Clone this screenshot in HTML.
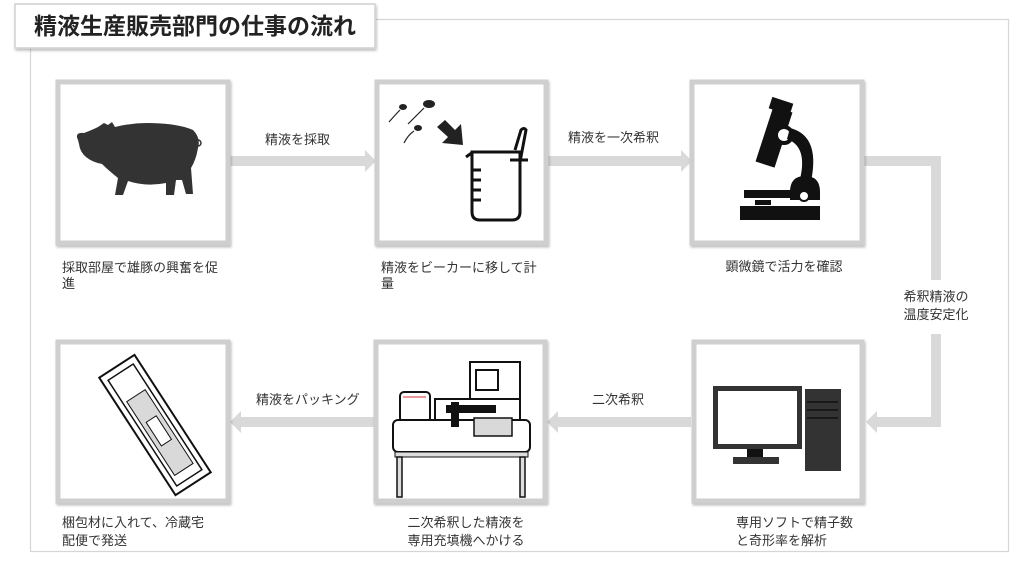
<!DOCTYPE html>
<html><head><meta charset="utf-8"><style>
html,body{margin:0;padding:0;background:#fff;}
svg{display:block;}
text{font-family:"Liberation Sans","Noto Sans CJK JP",sans-serif;fill:#333;font-size:13px;}
</style></head><body>
<svg width="1024" height="565" viewBox="0 0 1024 565" xmlns="http://www.w3.org/2000/svg">
<defs>
<filter id="sh" x="-10%" y="-10%" width="130%" height="130%"><feDropShadow dx="1" dy="2" stdDeviation="1.2" flood-color="#000" flood-opacity="0.25"/></filter>
</defs>
<rect x="30.5" y="19.5" width="978" height="532" fill="none" stroke="#d6d6d6" stroke-width="1.2"/>
<rect x="15" y="4" width="360" height="44" fill="#fff" stroke="#d0d0d0" stroke-width="1.5" filter="url(#sh)"/>
<text x="34" y="34" style="font-size:23px;font-weight:bold;fill:#222">精液生産販売部門の仕事の流れ</text>

<g fill="#d9d9d9">
<rect x="230" y="156" width="135" height="10"/><polygon points="365,150 376,161 365,172"/>
<rect x="548" y="156" width="133" height="10"/><polygon points="681,150 692,161 681,172"/>
<rect x="864" y="156" width="77" height="10"/><rect x="931" y="156" width="10" height="124"/>
<rect x="931" y="334" width="10" height="93"/><rect x="877" y="417" width="64" height="10"/><polygon points="877,411 866,422 877,433"/>
<rect x="558" y="417" width="133" height="10"/><polygon points="558,411 547,422 558,433"/>
<rect x="241" y="417" width="133" height="10"/><polygon points="241,411 230,422 241,433"/>
</g>
<text x="265" y="144">精液を採取</text>
<text x="568" y="142">精液を一次希釈</text>
<text x="936" y="301" text-anchor="middle">希釈精液の</text>
<text x="936" y="319" text-anchor="middle">温度安定化</text>
<text x="592" y="404">二次希釈</text>
<text x="256" y="404">精液をパッキング</text>

<g fill="#fff" stroke="#cfcfcf" stroke-width="5" filter="url(#sh)">
<rect x="58" y="82" width="170" height="161"/>
<rect x="377" y="82" width="169" height="161"/>
<rect x="692" y="82" width="170" height="161"/>
<rect x="58" y="342" width="170" height="159"/>
<rect x="376" y="342" width="169" height="159"/>
<rect x="694" y="342" width="168" height="159"/>
</g>

<!-- pig -->
<g fill="#333">
<path d="M78,140 q-4,-8 6,-7 q8,-3 14,-6 l6,-4 l4,2 l4,-3 l3,5 q16,-4 32,-4 q30,0 46,7 q8,8 5,18 q-2,12 -7,20 l2,26 l-7,0 l-4,-14 l-6,0 l-2,15 l-8,0 l0,-12 q-20,4 -38,-2 l-5,14 l-8,0 l3,-17 q-10,-8 -16,-14 q-10,-2 -16,-7 q-6,-5 -7,-13 z"/>
<circle cx="198" cy="143" r="3" fill="none" stroke="#333" stroke-width="1.5"/>
</g>
<!-- beaker & sperm -->
<g stroke="#111" fill="none" stroke-width="3">
<path d="M472,152 h48 v60 q0,8 -8,8 h-32 q-8,0 -8,-8 z"/>
<path d="M466,157 l7,-5"/>
<path d="M481,170 h-9 M481,180 h-9 M481,190 h-9 M481,200 h-9"/>
<path d="M515,150 l6,-20 q3,-3 5,0 l-6,32"/>
<path d="M510,160 h18"/>
</g>
<g fill="#222">
<ellipse cx="403" cy="107" rx="4" ry="3"/><ellipse cx="429" cy="104" rx="6" ry="4"/><ellipse cx="418" cy="128" rx="4" ry="3"/>
<polygon points="437,127 445,120 455,130 461,124 463,145 442,143 448,137"/>
</g>
<g stroke="#222" fill="none" stroke-width="1.2"><path d="M400,110 q-4,4 -11,12"/><path d="M424,108 q-6,6 -16,16"/><path d="M414,131 q-6,4 -10,12"/></g>
<!-- microscope -->
<g fill="#111">
<rect x="764" y="108" width="20" height="58" transform="rotate(18 774 137)"/>
<rect x="770" y="100" width="22" height="12" transform="rotate(18 781 106)"/>
<circle cx="784" cy="135" r="8" fill="#fff" stroke="#111" stroke-width="4"/>
<path d="M790,128 q32,8 20,58 l-11,-3 q10,-36 -12,-44 z"/>
<path d="M790,192 q0,-16 15,-16 q15,0 15,16 l0,8 h-30 z"/>
<circle cx="804" cy="196" r="5" fill="#fff" stroke="#111" stroke-width="2"/>
<rect x="744" y="190" width="52" height="8"/>
<rect x="740" y="206" width="80" height="14"/>
<rect x="755" y="200" width="16" height="5"/>
</g>
<!-- package -->
<g transform="rotate(-33 155 425)">
<rect x="134" y="355" width="42" height="140" fill="#fff" stroke="#111" stroke-width="2"/>
<rect x="140" y="362" width="30" height="126" fill="#fff" stroke="#111" stroke-width="1.5"/>
<rect x="144" y="390" width="22" height="88" fill="#d9d9d9" stroke="#111" stroke-width="1"/>
<rect x="149" y="418" width="12" height="28" fill="#fff" stroke="#111" stroke-width="1"/>
</g>
<!-- filler machine -->
<g stroke="#111" stroke-width="2">
<rect x="470" y="362" width="50" height="40" fill="#fff"/>
<rect x="476" y="370" width="22" height="20" fill="#fff"/>
<rect x="435" y="399" width="85" height="25" fill="#fff"/>
<rect x="400" y="392" width="30" height="30" rx="4" fill="#fff"/>
<rect x="393" y="420" width="137" height="32" rx="5" fill="#fff"/>
<rect x="395" y="452" width="133" height="5" fill="#ddd" stroke-width="1"/>
<rect x="397" y="457" width="5" height="40" fill="#ddd" stroke-width="1.5"/>
<rect x="520" y="457" width="5" height="40" fill="#ddd" stroke-width="1.5"/>
<rect x="474" y="418" width="38" height="18" fill="#d9d9d9" stroke-width="1.5"/>
</g>
<rect x="446" y="405" width="50" height="8" fill="#111"/><rect x="451" y="402" width="8" height="25" fill="#111"/>
<line x1="403" y1="397" x2="426" y2="397" stroke="#d33" stroke-width="1"/>
<!-- computer -->
<g fill="#333">
<rect x="713" y="386" width="89" height="63"/>
<rect x="718" y="391" width="79" height="53" fill="#fff"/>
<rect x="747" y="449" width="16" height="9" fill="#111"/>
<rect x="733" y="457" width="46" height="7"/>
<rect x="805" y="389" width="36" height="82"/>
</g>
<g stroke="#111" stroke-width="1.5"><line x1="807" y1="402" x2="838" y2="402"/><line x1="807" y1="410" x2="838" y2="410"/><line x1="807" y1="418" x2="838" y2="418"/></g>

<text x="62" y="272">採取部屋で雄豚の興奮を促</text>
<text x="62" y="288">進</text>
<text x="381" y="272">精液をビーカーに移して計</text>
<text x="381" y="288">量</text>
<text x="784" y="271" text-anchor="middle">顕微鏡で活力を確認</text>
<text x="62" y="527">梱包材に入れて、冷蔵宅</text>
<text x="62" y="545">配便で発送</text>
<text x="466" y="527" text-anchor="middle">二次希釈した精液を</text>
<text x="466" y="545" text-anchor="middle">専用充填機へかける</text>
<text x="736" y="527">専用ソフトで精子数</text>
<text x="736" y="545">と奇形率を解析</text>
</svg>
</body></html>
